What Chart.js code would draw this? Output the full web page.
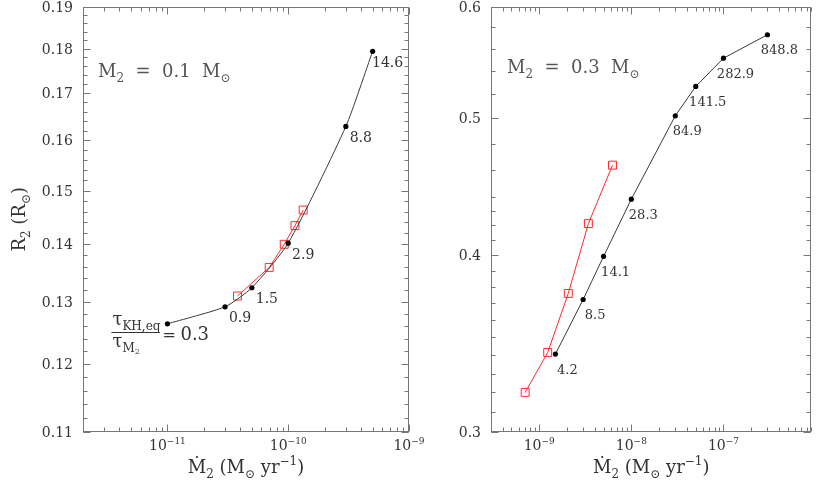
<!DOCTYPE html>
<html lang="en">
<head>
  <meta charset="UTF-8">
  <title>R2 vs Mdot</title>
  <script src="https://cdn.jsdelivr.net/npm/chart.js"></script>
  <style>
    body {
      margin: 0;
      background: #fff;
    }
    .wrap {
      position: relative;
      width: 818px;
      height: 480px;
      overflow: hidden;
    }
    canvas {
      position: absolute;
      top: 0;
    }
    #left { left: 0; }
    #right { left: 420px; }
  </style>
</head>
<body>
  <div class="wrap">
    <canvas id="left" width="440" height="480"></canvas>
    <canvas id="right" width="398" height="480"></canvas>
  </div>

  <script>
    // ---- left panel, M2 = 0.1 Msun ----
    const leftMdot = [1e-11, 3e-11, 5e-11, 1e-10, 3e-10, 5e-10];
    const leftR = [0.1264, 0.1292, 0.1324, 0.1402, 0.1629, 0.1794];
    const leftRatio = ['0.3', '0.9', '1.5', '2.9', '8.8', '14.6'];
    const leftRedMdot = [3.8e-11, 6.96e-11, 9.27e-11, 1.137e-10, 1.33e-10];
    const leftRedR = [0.1310, 0.1359, 0.1400, 0.1434, 0.1463];
    const leftXTicks = [1e-11, 1e-10, 1e-9];
    const leftXLabels = ['−11', '−10', '−9'];
    const leftYTicks = [0.11, 0.12, 0.13, 0.14, 0.15, 0.16, 0.17, 0.18, 0.19];
    const leftYLabels = ['0.11', '0.12', '0.13', '0.14', '0.15', '0.16', '0.17', '0.18', '0.19'];

    // ---- right panel, M2 = 0.3 Msun ----
    const rightMdot = [1.5e-9, 3e-9, 5e-9, 1e-8, 3e-8, 5e-8, 1e-7, 3e-7];
    const rightR = [0.3406, 0.3723, 0.3994, 0.4384, 0.5022, 0.5268, 0.5516, 0.5731];
    const rightRatio = ['4.2', '8.5', '14.1', '28.3', '84.9', '141.5', '282.9', '848.8'];
    const rightRedMdot = [7.05e-10, 1.237e-9, 2.07e-9, 3.42e-9, 6.25e-9];
    const rightRedR = [0.3200, 0.3415, 0.3760, 0.4213, 0.4634];
    const rightXTicks = [1e-9, 1e-8, 1e-7];
    const rightXLabels = ['−9', '−8', '−7'];
    const rightYTicks = [0.3, 0.4, 0.5, 0.6];
    const rightYLabels = ['0.3', '0.4', '0.5', '0.6'];

    const FONT = "'DejaVu Serif', 'Liberation Serif', serif";
    const TXT = '#333';
    const FRAME = '#777';

    function fontFor(size) {
      return size + 'px ' + FONT;
    }

    // parts: [text, 'n' | 'sub' | 'sup' | 'sub2']
    function partSize(p, size) {
      if (p[1] === 'sub' || p[1] === 'sup') return Math.round(size * 0.64);
      if (p[1] === 'sub2') return Math.round(size * 0.45);
      return size;
    }

    function partShift(p, size) {
      if (p[1] === 'sub') return size * 0.28;
      if (p[1] === 'sub2') return size * 0.42;
      if (p[1] === 'sup') return -size * 0.42;
      return 0;
    }

    function richWidth(ctx, parts, size) {
      let w = 0;
      parts.forEach(p => {
        ctx.font = fontFor(partSize(p, size));
        w += ctx.measureText(p[0]).width;
      });
      return w;
    }

    function richText(ctx, parts, x, y, size, align, color) {
      const w = richWidth(ctx, parts, size);
      let cx = align === 'center' ? x - w / 2 : align === 'right' ? x - w : x;
      ctx.save();
      ctx.fillStyle = color || TXT;
      ctx.textAlign = 'left';
      ctx.textBaseline = 'alphabetic';
      parts.forEach(p => {
        ctx.font = fontFor(partSize(p, size));
        ctx.fillText(p[0], cx, y + partShift(p, size));
        cx += ctx.measureText(p[0]).width;
      });
      ctx.restore();
      return w;
    }

    function logMinors(min, max) {
      const out = [];
      for (let e = Math.floor(Math.log10(min)); e <= Math.ceil(Math.log10(max)); e++) {
        for (let k = 2; k <= 9; k++) {
          const v = k * Math.pow(10, e);
          if (v >= min * 0.999 && v <= max * 1.001) out.push(v);
        }
      }
      return out;
    }

    function linMinors(from, to, step) {
      const out = [];
      for (let v = from; v <= to + 1e-9; v += step) out.push(+v.toFixed(4));
      return out;
    }

    const xTitle = [['Ṁ', 'n'], ['2', 'sub'], [' (M', 'n'], ['⊙', 'sub'], [' yr', 'n'], ['−1', 'sup'], [')', 'n']];

    function makePanel(id, cfg) {
      const decor = {
        id: 'decor',
        afterDraw(chart) {
          const ctx = chart.ctx;
          const a = chart.chartArea;
          const xs = chart.scales.x;
          const ys = chart.scales.y;
          const L = Math.round(a.left) + 0.5, R = Math.round(a.right) - 0.5;
          const T = Math.round(a.top) + 0.5, B = Math.round(a.bottom) - 0.5;

          ctx.save();
          ctx.strokeStyle = FRAME;
          ctx.lineWidth = 1;
          ctx.strokeRect(L, T, R - L, B - T);

          ctx.beginPath();
          const xTick = (v, len) => {
            const p = Math.round(xs.getPixelForValue(v)) + 0.5;
            ctx.moveTo(p, B); ctx.lineTo(p, B - len);
            ctx.moveTo(p, T); ctx.lineTo(p, T + len);
          };
          const yTick = (v, len) => {
            const p = Math.round(ys.getPixelForValue(v)) + 0.5;
            ctx.moveTo(L, p); ctx.lineTo(L + len, p);
            ctx.moveTo(R, p); ctx.lineTo(R - len, p);
          };
          cfg.xMinor.forEach(v => xTick(v, 4));
          cfg.xTicks.forEach(v => xTick(v, 7));
          cfg.yMinor.forEach(v => yTick(v, 4));
          cfg.yTicks.forEach(v => yTick(v, 7));
          ctx.stroke();
          ctx.restore();

          // tick labels
          cfg.xTicks.forEach((v, i) => {
            const p = xs.getPixelForValue(v);
            richText(ctx, [['10', 'n'], [cfg.xLabels[i], 'sup']], p, 450, 14, 'center');
          });
          cfg.yTicks.forEach((v, i) => {
            const p = ys.getPixelForValue(v);
            richText(ctx, [[cfg.yLabels[i], 'n']], a.left - 10, p + 5, 14, 'right');
          });

          // x title
          richText(ctx, xTitle, (a.left + a.right) / 2, 473, 18, 'center');

          // y title
          if (cfg.yTitle) {
            ctx.save();
            ctx.translate(19, (a.top + a.bottom) / 2);
            ctx.rotate(-Math.PI / 2);
            richText(ctx, [['R', 'n'], ['2', 'sub'], [' (R', 'n'], ['⊙', 'sub'], [')', 'n']], 0, 6, 18, 'center');
            ctx.restore();
          }

          // mass annotation
          richText(ctx, [['M', 'n'], ['2', 'sub'], ['  =  ' + cfg.mass + '  M', 'n'], ['⊙', 'sub']],
            cfg.massX, cfg.massY, 18, 'left', '#555');

          // point labels
          const meta = chart.getDatasetMeta(0);
          meta.data.forEach((pt, i) => {
            if (cfg.fraction && i === 0) return;
            richText(ctx, [[cfg.labels[i], 'n']], pt.x + cfg.labDx, pt.y + cfg.labDy + 5, cfg.labSize, 'center');
          });

          if (cfg.fraction) {
            const pt = meta.data[0];
            const midY = pt.y + 10;
            richText(ctx, [['=', 'n']], pt.x - 5, midY + 6, 16, 'left');
            richText(ctx, [[cfg.labels[0], 'n']], pt.x + 13, midY + 6, 18, 'left');
            const barR = pt.x - 8, barL = barR - 48;
            ctx.save();
            ctx.strokeStyle = TXT;
            ctx.lineWidth = 1;
            ctx.beginPath();
            ctx.moveTo(barL, Math.round(midY - 2) + 0.5);
            ctx.lineTo(barR, Math.round(midY - 2) + 0.5);
            ctx.stroke();
            ctx.restore();
            richText(ctx, [['τ', 'n'], ['KH,eq', 'sub']], barL + 1, midY - 9, 18, 'left');
            richText(ctx, [['τ', 'n'], ['M', 'sub'], ['2', 'sub2']], barL + 1, midY + 13, 18, 'left');
          }
        }
      };

      return new Chart(document.getElementById(id), {
        type: 'scatter',
        data: {
          datasets: [
            {
              data: cfg.blackX.map((x, i) => ({ x, y: cfg.blackY[i] })),
              showLine: true,
              borderColor: '#3a3a3a',
              borderWidth: 1,
              backgroundColor: '#000',
              pointRadius: 2.6,
              pointBorderWidth: 0,
              tension: cfg.tension
            },
            {
              data: cfg.redX.map((x, i) => ({ x, y: cfg.redY[i] })),
              showLine: true,
              borderColor: '#ff2a2a',
              borderWidth: 1,
              backgroundColor: 'rgba(0,0,0,0)',
              pointStyle: 'rect',
              pointRadius: 5.6,
              pointBorderWidth: 1,
              pointBorderColor: '#ff2a2a',
              tension: 0
            }
          ]
        },
        options: {
          responsive: false,
          animation: false,
          devicePixelRatio: 1,
          layout: { padding: { top: 5, right: cfg.padRight, left: 0, bottom: 0 } },
          plugins: { legend: { display: false }, tooltip: { enabled: false } },
          scales: {
            x: {
              type: 'logarithmic',
              min: cfg.xMin,
              max: cfg.xMax,
              grid: { display: false },
              border: { display: false },
              ticks: { display: false },
              afterBuildTicks: s => { s.ticks = cfg.xTicks.map(v => ({ value: v })); },
              afterFit: s => { s.height = 48; }
            },
            y: {
              type: 'logarithmic',
              min: cfg.yMin,
              max: cfg.yMax,
              grid: { display: false },
              border: { display: false },
              ticks: { display: false },
              afterBuildTicks: s => { s.ticks = cfg.yTicks.map(v => ({ value: v })); },
              afterFit: s => { s.width = cfg.yWidth; }
            }
          }
        },
        plugins: [decor]
      });
    }

    makePanel('left', {
      blackX: leftMdot, blackY: leftR, labels: leftRatio,
      redX: leftRedMdot, redY: leftRedR,
      xMin: 2e-12, xMax: 1e-9, yMin: 0.11, yMax: 0.19,
      xTicks: leftXTicks, xLabels: leftXLabels,
      yTicks: leftYTicks, yLabels: leftYLabels,
      xMinor: logMinors(2e-12, 1e-9),
      yMinor: linMinors(0.11, 0.19, 0.002),
      yWidth: 83, padRight: 31, tension: 0.2,
      yTitle: true, fraction: true,
      mass: '0.1', massX: 98, massY: 77,
      labDx: 15, labDy: 10.5, labSize: 14
    });

    makePanel('right', {
      blackX: rightMdot, blackY: rightR, labels: rightRatio,
      redX: rightRedMdot, redY: rightRedR,
      xMin: 3e-10, xMax: 9e-7, yMin: 0.3, yMax: 0.6,
      xTicks: rightXTicks, xLabels: rightXLabels,
      yTicks: rightYTicks, yLabels: rightYLabels,
      xMinor: logMinors(3e-10, 9e-7),
      yMinor: linMinors(0.3, 0.44, 0.01).concat(linMinors(0.46, 0.6, 0.02)),
      yWidth: 71, padRight: 1, tension: 0,
      yTitle: false, fraction: false,
      mass: '0.3', massX: 87, massY: 73,
      labDx: 12, labDy: 14.5, labSize: 13
    });
  </script>
</body>
</html>
